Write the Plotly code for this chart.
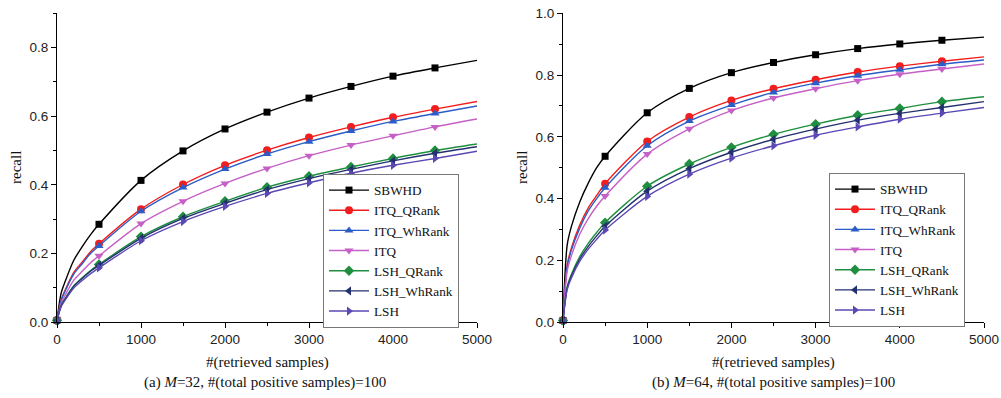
import plotly.graph_objects as go

W, H = 1001, 398

# ---------------- data ----------------
NAMES = ["SBWHD", "ITQ_QRank", "ITQ_WhRank", "ITQ", "LSH_QRank", "LSH_WhRank", "LSH"]
X_MAIN = [0, 500, 1000, 1500, 2000, 2500, 3000, 3500, 4000, 4500, 5000]
X_EARLY = [50, 100, 200, 300, 400]
X_TICKS = [0, 1000, 2000, 3000, 4000, 5000]
Y_TICKS_A = [0.0, 0.2, 0.4, 0.6, 0.8]
Y_TICKS_B = [0.0, 0.2, 0.4, 0.6, 0.8, 1.0]

# (a) M=32
a_SBWHD = [0.005, 0.285, 0.413, 0.499, 0.563, 0.612, 0.653, 0.687, 0.717, 0.741, 0.763]
a_ITQ_QRank = [0.005, 0.228, 0.329, 0.401, 0.457, 0.501, 0.538, 0.569, 0.597, 0.621, 0.643]
a_ITQ_WhRank = [0.005, 0.222, 0.323, 0.392, 0.446, 0.490, 0.526, 0.557, 0.585, 0.608, 0.630]
a_ITQ = [0.005, 0.193, 0.287, 0.352, 0.404, 0.448, 0.485, 0.516, 0.543, 0.569, 0.592]
a_LSH_QRank = [0.005, 0.168, 0.249, 0.307, 0.352, 0.393, 0.425, 0.452, 0.477, 0.500, 0.519]
a_LSH_WhRank = [0.005, 0.165, 0.244, 0.302, 0.346, 0.386, 0.418, 0.445, 0.470, 0.492, 0.511]
a_LSH = [0.005, 0.158, 0.237, 0.293, 0.337, 0.375, 0.406, 0.434, 0.457, 0.477, 0.498]

a_SBWHD_early = [0.085, 0.12, 0.18, 0.22, 0.255]
a_ITQ_QRank_early = [0.065, 0.095, 0.145, 0.175, 0.205]
a_ITQ_WhRank_early = [0.063, 0.092, 0.14, 0.17, 0.20]
a_ITQ_early = [0.055, 0.08, 0.122, 0.148, 0.173]
a_LSH_QRank_early = [0.048, 0.07, 0.106, 0.129, 0.15]
a_LSH_WhRank_early = [0.047, 0.068, 0.104, 0.127, 0.148]
a_LSH_early = [0.045, 0.065, 0.099, 0.121, 0.141]

# (b) M=64
b_SBWHD = [0.005, 0.537, 0.678, 0.757, 0.808, 0.841, 0.866, 0.886, 0.901, 0.913, 0.923]
b_ITQ_QRank = [0.005, 0.448, 0.585, 0.664, 0.718, 0.756, 0.785, 0.810, 0.829, 0.845, 0.859]
b_ITQ_WhRank = [0.005, 0.435, 0.571, 0.651, 0.703, 0.744, 0.774, 0.798, 0.817, 0.835, 0.849]
b_ITQ = [0.005, 0.408, 0.544, 0.626, 0.685, 0.726, 0.756, 0.782, 0.803, 0.820, 0.836]
b_LSH_QRank = [0.005, 0.322, 0.440, 0.512, 0.566, 0.608, 0.641, 0.670, 0.692, 0.714, 0.730]
b_LSH_WhRank = [0.005, 0.310, 0.424, 0.497, 0.550, 0.592, 0.625, 0.654, 0.676, 0.695, 0.714]
b_LSH = [0.005, 0.298, 0.407, 0.479, 0.531, 0.571, 0.605, 0.632, 0.657, 0.677, 0.695]

b_SBWHD_early = [0.25, 0.31, 0.39, 0.45, 0.50]
b_ITQ_QRank_early = [0.185, 0.24, 0.315, 0.37, 0.41]
b_ITQ_WhRank_early = [0.18, 0.233, 0.305, 0.36, 0.40]
b_ITQ_early = [0.165, 0.215, 0.285, 0.335, 0.375]
b_LSH_QRank_early = [0.115, 0.155, 0.213, 0.255, 0.29]
b_LSH_WhRank_early = [0.11, 0.149, 0.205, 0.245, 0.279]
b_LSH_early = [0.105, 0.143, 0.197, 0.236, 0.268]

# ---------------- style ----------------
COLORS = ["#000000", "#f21d1d", "#2c5cc5", "#c65fc6", "#1f8f3f", "#22306e", "#5b48b5"]
SYMBOLS = ["square", "circle", "triangle-up", "triangle-down", "diamond",
           "triangle-left", "triangle-right"]
SIZES = [7, 8, 8, 8, 8, 8, 8]

panel_a = [(a_SBWHD, a_SBWHD_early), (a_ITQ_QRank, a_ITQ_QRank_early),
           (a_ITQ_WhRank, a_ITQ_WhRank_early), (a_ITQ, a_ITQ_early),
           (a_LSH_QRank, a_LSH_QRank_early), (a_LSH_WhRank, a_LSH_WhRank_early),
           (a_LSH, a_LSH_early)]
panel_b = [(b_SBWHD, b_SBWHD_early), (b_ITQ_QRank, b_ITQ_QRank_early),
           (b_ITQ_WhRank, b_ITQ_WhRank_early), (b_ITQ, b_ITQ_early),
           (b_LSH_QRank, b_LSH_QRank_early), (b_LSH_WhRank, b_LSH_WhRank_early),
           (b_LSH, b_LSH_early)]

fig = go.Figure()


def px_x(p):
    return p / W


def px_y(p):
    return 1 - p / H


def add_panel(panel, xa, ya, legend):
    for i, (main, early) in enumerate(panel):
        xs = [X_MAIN[0]] + X_EARLY + X_MAIN[1:]
        ys = [main[0]] + early + main[1:]
        fig.add_trace(go.Scatter(
            x=xs, y=ys, mode="lines", xaxis=xa, yaxis=ya,
            line=dict(color=COLORS[i], width=1.4, shape="spline", smoothing=0.8),
            showlegend=False, hoverinfo="skip"))
        fig.add_trace(go.Scatter(
            x=X_MAIN[:-1], y=main[:-1], mode="markers", xaxis=xa, yaxis=ya,
            marker=dict(symbol=SYMBOLS[i], size=SIZES[i], color=COLORS[i],
                        line=dict(width=0)),
            showlegend=False, cliponaxis=False))
        fig.add_trace(go.Scatter(
            x=[None], y=[None], mode="lines+markers", xaxis=xa, yaxis=ya,
            name=NAMES[i], legend=legend,
            line=dict(color=COLORS[i], width=1.4),
            marker=dict(symbol=SYMBOLS[i], size=SIZES[i], color=COLORS[i])))


add_panel(panel_a, "x", "y", "legend")
add_panel(panel_b, "x2", "y2", "legend2")

tickfont = dict(family="Liberation Sans, Arial, sans-serif", size=13.5, color="#222")
ydom = [px_y(322), px_y(13.4)]


def xaxis(dom, anchor):
    return dict(domain=dom, anchor=anchor, range=[0, 5000], tickvals=X_TICKS,
                ticks="outside", ticklen=5, tickwidth=1, tickcolor="black",
                showline=True, linecolor="black", linewidth=1, showgrid=False,
                zeroline=False, tickfont=tickfont, automargin=False,
                minor=dict(ticks="outside", ticklen=3, dtick=500, tickcolor="black",
                           showgrid=False))


def yaxis(top, ticks, anchor):
    return dict(domain=ydom, anchor=anchor, range=[0, top], tickvals=ticks,
                tickformat=".1f", ticks="outside", ticklen=5, tickwidth=1,
                tickcolor="black", showline=True, linecolor="black", linewidth=1,
                showgrid=False, zeroline=False, tickfont=tickfont, automargin=False,
                minor=dict(ticks="outside", ticklen=3, dtick=0.1, tick0=0,
                           tickcolor="black", showgrid=False))


legfont = dict(family="Liberation Serif, Times New Roman, serif", size=13.2, color="#111")
serif = "Liberation Serif, Times New Roman, serif"

fig.update_layout(
    width=W, height=H, margin=dict(l=0, r=0, t=0, b=0, autoexpand=False),
    paper_bgcolor="white", plot_bgcolor="white",
    xaxis=xaxis([px_x(57), px_x(477)], "y"),
    yaxis=yaxis(0.9, Y_TICKS_A, "x"),
    xaxis2=xaxis([px_x(563), px_x(984)], "y2"),
    yaxis2=yaxis(1.0, Y_TICKS_B, "x2"),
    legend=dict(x=px_x(323), y=px_y(174), xanchor="left", yanchor="top",
                bgcolor="white", bordercolor="#777", borderwidth=1,
                font=legfont, tracegroupgap=0, itemwidth=40),
    legend2=dict(x=px_x(829), y=px_y(173), xanchor="left", yanchor="top",
                 bgcolor="white", bordercolor="#777", borderwidth=1,
                 font=legfont, tracegroupgap=0, itemwidth=40),
    showlegend=True,
)

annots = [
    dict(x=px_x(16), y=px_y(168), text="recall", textangle=-90),
    dict(x=px_x(522), y=px_y(168), text="recall", textangle=-90),
    dict(x=px_x(267), y=px_y(362), text="#(retrieved samples)"),
    dict(x=px_x(773), y=px_y(362), text="#(retrieved samples)"),
    dict(x=px_x(265), y=px_y(382), text="(a) <i>M</i>=32, #(total positive samples)=100"),
    dict(x=px_x(773), y=px_y(382), text="(b) <i>M</i>=64, #(total positive samples)=100"),
]
for a in annots:
    fig.add_annotation(xref="paper", yref="paper", showarrow=False,
                       xanchor="center", yanchor="middle",
                       font=dict(family=serif, size=15, color="#111"), **a)

fig.write_html(
    "out.html",
    config={"displayModeBar": False},
    post_script="document.body.style.margin='0';document.body.style.overflow='hidden';",
)
